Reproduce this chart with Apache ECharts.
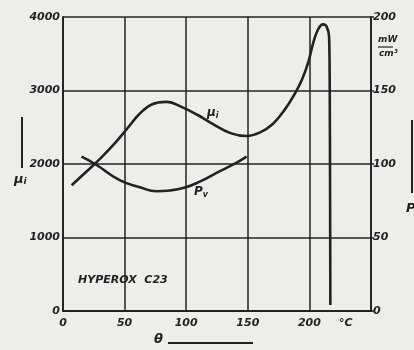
<!DOCTYPE html>
<html>
<head>
<meta charset="utf-8">
<script src="https://cdn.jsdelivr.net/npm/echarts@6/dist/echarts.min.js"></script>
<style>
html,body{margin:0;padding:0;background:#eeede9;}
#c{width:414px;height:350px;}
</style>
</head>
<body>
<div id="c"></div>
<script>
// temperature (°C) and initial permeability
const muTheta = [7, 18, 30, 42, 52, 62, 72, 84, 97, 109, 120, 136, 149, 160, 170, 180, 188, 194, 199, 203, 207, 211, 214, 216, 216.5, 216.8, 217];
const muValues = [1710, 1880, 2070, 2280, 2480, 2680, 2810, 2845, 2770, 2670, 2560, 2420, 2380, 2430, 2540, 2740, 2950, 3150, 3380, 3640, 3830, 3900, 3870, 3730, 3000, 1500, 80];
// power loss Pv (mW/cm3)
const pvTheta = [15, 26, 46, 63, 76, 87, 99, 111, 127, 141, 149];
const pvValues = [105, 100, 89, 84, 81.5, 82, 84, 88, 95, 101, 105];
// ticks
const xTicks = [0, 50, 100, 150, 200];
const muTicks = [0, 1000, 2000, 3000, 4000];
const pvTicks = [0, 50, 100, 150, 200];

const INK = '#222222';
const FONT = '"DejaVu Sans", sans-serif';
const lblStyle = {color: INK, fontFamily: FONT, fontStyle: 'italic', fontWeight: 'bold', fontSize: 11};

const chart = echarts.init(document.getElementById('c'), null, {renderer: 'canvas'});
chart.setOption({
  backgroundColor: '#eeede9',
  animation: false,
  grid: {left: 63, top: 17, width: 308, height: 294, show: false},
  xAxis: {
    type: 'value', min: 0, max: 250, interval: 50,
    axisLine: {show: true, onZero: false, lineStyle: {color: INK, width: 1.8}},
    axisTick: {show: false},
    splitLine: {show: true, lineStyle: {color: INK, width: 1.5}},
    axisLabel: Object.assign({}, lblStyle, {margin: 7,
      formatter: v => xTicks.indexOf(v) >= 0 ? String(v) : ''})
  },
  yAxis: [{
    type: 'value', min: 0, max: 4000, interval: 1000,
    axisLine: {show: true, lineStyle: {color: INK, width: 1.8}},
    axisTick: {show: false},
    splitLine: {show: true, lineStyle: {color: INK, width: 1.5}},
    axisLabel: Object.assign({}, lblStyle, {margin: 3,
      formatter: v => muTicks.indexOf(v) >= 0 ? String(v) : ''})
  }, {
    type: 'value', min: 0, max: 200, interval: 50, position: 'right',
    axisLine: {show: true, lineStyle: {color: INK, width: 1.8}},
    axisTick: {show: true, length: 3, inside: false, lineStyle: {color: INK, width: 1.5}},
    splitLine: {show: false},
    axisLabel: Object.assign({}, lblStyle, {margin: 2,
      formatter: v => pvTicks.indexOf(v) >= 0 ? String(v) : ''})
  }],
  series: [{
    type: 'line', name: 'μi', yAxisIndex: 0,
    data: muTheta.map((t, i) => [t, muValues[i]]),
    smooth: 0.4, showSymbol: false,
    lineStyle: {color: INK, width: 2.6}
  }, {
    type: 'line', name: 'Pv', yAxisIndex: 1,
    data: pvTheta.map((t, i) => [t, pvValues[i]]),
    smooth: 0.5, showSymbol: false,
    lineStyle: {color: INK, width: 2.6}
  }],
  graphic: [
    {type: 'text', left: 78, top: 275, style: {text: 'HYPEROX  C23', fill: INK, font: 'italic bold 11px ' + FONT}},
    {type: 'text', left: 339, top: 318, style: {text: '°C', fill: INK, font: 'italic bold 11px ' + FONT}},
    {type: 'text', left: 207, top: 107, style: {text: '{a|μ}{b|i}', rich: {a: {fill: INK, font: 'italic bold 12px ' + FONT}, b: {fill: INK, font: 'italic bold 8px ' + FONT, padding: [5, 0, 0, 0]}}}},
    {type: 'text', left: 194, top: 186, style: {text: '{a|P}{b|v}', rich: {a: {fill: INK, font: 'italic bold 12px ' + FONT}, b: {fill: INK, font: 'italic bold 8px ' + FONT, padding: [5, 0, 0, 0]}}}},
    // left axis title
    {type: 'line', shape: {x1: 22, y1: 117, x2: 22, y2: 168}, style: {stroke: INK, lineWidth: 2}},
    {type: 'text', left: 14, top: 173, style: {text: '{a|μ}{b|i}', rich: {a: {fill: INK, font: 'italic bold 13px ' + FONT}, b: {fill: INK, font: 'italic bold 9px ' + FONT, padding: [5, 0, 0, 0]}}}},
    // right axis title
    {type: 'line', shape: {x1: 412, y1: 120, x2: 412, y2: 193}, style: {stroke: INK, lineWidth: 2}},
    {type: 'text', left: 406, top: 202, style: {text: 'P', fill: INK, font: 'italic bold 13px ' + FONT}},
    // unit
    {type: 'text', left: 378, top: 35, style: {text: 'mW', fill: INK, font: 'italic bold 9px ' + FONT}},
    {type: 'line', shape: {x1: 378, y1: 47, x2: 393, y2: 47}, style: {stroke: INK, lineWidth: 1.2}},
    {type: 'text', left: 379, top: 49, style: {text: 'cm³', fill: INK, font: 'italic bold 9px ' + FONT}},
    // bottom axis title
    {type: 'text', left: 154, top: 333, style: {text: 'θ', fill: INK, font: 'italic bold 13px ' + FONT}},
    {type: 'line', shape: {x1: 168, y1: 343, x2: 253, y2: 343}, style: {stroke: INK, lineWidth: 1.8}}
  ]
});
</script>
</body>
</html>
